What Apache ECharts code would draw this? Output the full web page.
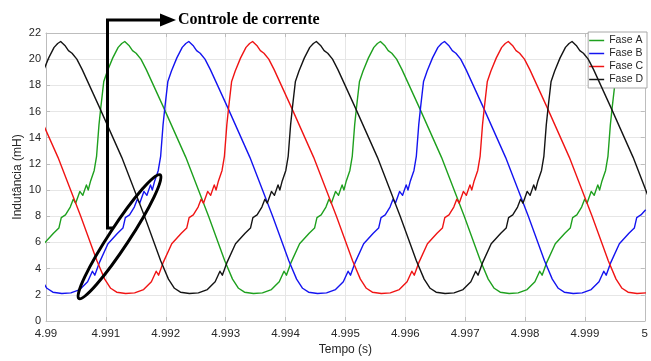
<!DOCTYPE html>
<html>
<head>
<meta charset="utf-8">
<script src="https://cdn.jsdelivr.net/npm/echarts@6/dist/echarts.min.js"></script>
<style>
  html, body { margin: 0; padding: 0; background: #ffffff; }
  #chart { width: 651px; height: 361px; }
</style>
</head>
<body>
<div id="chart"></div>
<script>
// Indutância de cada fase ao longo do tempo (s, mH)
const tempoA = [
  4.989825, 4.989965, 4.990125, 4.990215, 4.990255, 4.990325, 4.990405, 4.990455, 4.990495, 4.990565,
  4.990615, 4.990675, 4.990705, 4.990745, 4.990805, 4.990845, 4.990885, 4.990915, 4.990965, 4.991025,
  4.991115, 4.991205, 4.991265,
  4.991315, 4.991385, 4.991445, 4.991505, 4.991585, 4.991675, 4.991965, 4.992335, 4.992715, 4.992985,
  4.993115, 4.993215, 4.993315, 4.993465, 4.993615, 4.993765, 4.993895, 4.993975, 4.994015, 4.994095,
  4.994235, 4.994395, 4.994485, 4.994525, 4.994595, 4.994675, 4.994725, 4.994765, 4.994835, 4.994885,
  4.994945, 4.994975, 4.995015, 4.995075, 4.995115, 4.995155, 4.995185, 4.995235, 4.995295, 4.995385,
  4.995475, 4.995535,
  4.995585, 4.995655, 4.995715, 4.995775, 4.995855, 4.995945, 4.996235, 4.996605, 4.996985, 4.997255,
  4.997385, 4.997485, 4.997585, 4.997735, 4.997885, 4.998035, 4.998165, 4.998245, 4.998285, 4.998365,
  4.998505, 4.998665, 4.998755, 4.998795, 4.998865, 4.998945, 4.998995, 4.999035, 4.999105, 4.999155,
  4.999215, 4.999245, 4.999285, 4.999345, 4.999385, 4.999425, 4.999455, 4.999505, 4.999565, 4.999655,
  4.999745, 4.999805,
  4.999855, 4.999925, 4.999985, 5.000045
];
const faseA = [
  4.5, 5.9, 6.7, 7.1, 7.9, 8.1, 8.7, 9.3, 9.0, 9.9,
  9.6, 10.4, 10.0, 10.7, 11.5, 12.6, 15.0, 16.3, 18.3, 19.1,
  20.1, 20.9, 21.2,
  21.35, 21.05, 20.65, 20.45, 20.0, 19.2, 16.3, 12.5, 8.0, 4.6,
  3.2, 2.5, 2.2, 2.1, 2.15, 2.4, 3.0, 3.8, 3.5, 4.5,
  5.9, 6.7, 7.1, 7.9, 8.1, 8.7, 9.3, 9.0, 9.9, 9.6,
  10.4, 10.0, 10.7, 11.5, 12.6, 15.0, 16.3, 18.3, 19.1, 20.1,
  20.9, 21.2,
  21.35, 21.05, 20.65, 20.45, 20.0, 19.2, 16.3, 12.5, 8.0, 4.6,
  3.2, 2.5, 2.2, 2.1, 2.15, 2.4, 3.0, 3.8, 3.5, 4.5,
  5.9, 6.7, 7.1, 7.9, 8.1, 8.7, 9.3, 9.0, 9.9, 9.6,
  10.4, 10.0, 10.7, 11.5, 12.6, 15.0, 16.3, 18.3, 19.1, 20.1,
  20.9, 21.2,
  21.35, 21.05, 20.65, 20.45
];

const tempoB = [
  4.989915, 4.990015, 4.990115, 4.990265, 4.990415, 4.990565, 4.990695, 4.990775, 4.990815, 4.990895,
  4.991035, 4.991195, 4.991285, 4.991325, 4.991395, 4.991475, 4.991525, 4.991565, 4.991635, 4.991685,
  4.991745, 4.991775, 4.991815, 4.991875, 4.991915, 4.991955, 4.991985, 4.992035, 4.992095, 4.992185,
  4.992275, 4.992335,
  4.992385, 4.992455, 4.992515, 4.992575, 4.992655, 4.992745, 4.993035, 4.993405, 4.993785, 4.994055,
  4.994185, 4.994285, 4.994385, 4.994535, 4.994685, 4.994835, 4.994965, 4.995045, 4.995085, 4.995165,
  4.995305, 4.995465, 4.995555, 4.995595, 4.995665, 4.995745, 4.995795, 4.995835, 4.995905, 4.995955,
  4.996015, 4.996045, 4.996085, 4.996145, 4.996185, 4.996225, 4.996255, 4.996305, 4.996365, 4.996455,
  4.996545, 4.996605,
  4.996655, 4.996725, 4.996785, 4.996845, 4.996925, 4.997015, 4.997305, 4.997675, 4.998055, 4.998325,
  4.998455, 4.998555, 4.998655, 4.998805, 4.998955, 4.999105, 4.999235, 4.999315, 4.999355, 4.999435,
  4.999575, 4.999735, 4.999825, 4.999865, 4.999935, 5.000015
];
const faseB = [
  3.2, 2.5, 2.2, 2.1, 2.15, 2.4, 3.0, 3.8, 3.5, 4.5,
  5.9, 6.7, 7.1, 7.9, 8.1, 8.7, 9.3, 9.0, 9.9, 9.6,
  10.4, 10.0, 10.7, 11.5, 12.6, 15.0, 16.3, 18.3, 19.1, 20.1,
  20.9, 21.2,
  21.35, 21.05, 20.65, 20.45, 20.0, 19.2, 16.3, 12.5, 8.0, 4.6,
  3.2, 2.5, 2.2, 2.1, 2.15, 2.4, 3.0, 3.8, 3.5, 4.5,
  5.9, 6.7, 7.1, 7.9, 8.1, 8.7, 9.3, 9.0, 9.9, 9.6,
  10.4, 10.0, 10.7, 11.5, 12.6, 15.0, 16.3, 18.3, 19.1, 20.1,
  20.9, 21.2,
  21.35, 21.05, 20.65, 20.45, 20.0, 19.2, 16.3, 12.5, 8.0, 4.6,
  3.2, 2.5, 2.2, 2.1, 2.15, 2.4, 3.0, 3.8, 3.5, 4.5,
  5.9, 6.7, 7.1, 7.9, 8.1, 8.5
];

const tempoC = [
  4.98983, 4.99020, 4.99058, 4.99085, 4.99098, 4.99108, 4.99118, 4.99133, 4.99148, 4.99163,
  4.99176, 4.99184, 4.99188, 4.99196, 4.99210, 4.99226, 4.99235, 4.99239, 4.99246, 4.99254,
  4.99259, 4.99263, 4.99270, 4.99275, 4.99281, 4.99284, 4.99288, 4.99294, 4.99298, 4.99302,
  4.99305, 4.99310, 4.99316, 4.99325, 4.99334, 4.99340,
  4.99345, 4.99352, 4.99358, 4.99364, 4.99372, 4.99381, 4.99410, 4.99447, 4.99485, 4.99512,
  4.99525, 4.99535, 4.99545, 4.99560, 4.99575, 4.99590, 4.99603, 4.99611, 4.99615, 4.99623,
  4.99637, 4.99653, 4.99662, 4.99666, 4.99673, 4.99681, 4.99686, 4.99690, 4.99697, 4.99702,
  4.99708, 4.99711, 4.99715, 4.99721, 4.99725, 4.99729, 4.99732, 4.99737, 4.99743, 4.99752,
  4.99761, 4.99767,
  4.99772, 4.99779, 4.99785, 4.99791, 4.99799, 4.99808, 4.99837, 4.99874, 4.99912, 4.99939,
  4.99952, 4.99962, 4.99972, 4.99987, 5.00002
];
const faseC = [
  16.3, 12.5, 8.0, 4.6, 3.2, 2.5, 2.2, 2.1, 2.15, 2.4,
  3.0, 3.8, 3.5, 4.5, 5.9, 6.7, 7.1, 7.9, 8.1, 8.7,
  9.3, 9.0, 9.9, 9.6, 10.4, 10.0, 10.7, 11.5, 12.6, 15.0,
  16.3, 18.3, 19.1, 20.1, 20.9, 21.2,
  21.35, 21.05, 20.65, 20.45, 20.0, 19.2, 16.3, 12.5, 8.0, 4.6,
  3.2, 2.5, 2.2, 2.1, 2.15, 2.4, 3.0, 3.8, 3.5, 4.5,
  5.9, 6.7, 7.1, 7.9, 8.1, 8.7, 9.3, 9.0, 9.9, 9.6,
  10.4, 10.0, 10.7, 11.5, 12.6, 15.0, 16.3, 18.3, 19.1, 20.1,
  20.9, 21.2,
  21.35, 21.05, 20.65, 20.45, 20.0, 19.2, 16.3, 12.5, 8.0, 4.6,
  3.2, 2.5, 2.2, 2.1, 2.15
];

const tempoD = [
  4.989815, 4.989845, 4.989895, 4.989955, 4.990045, 4.990135, 4.990195,
  4.990245, 4.990315, 4.990375, 4.990435, 4.990515, 4.990605, 4.990895, 4.991265, 4.991645, 4.991915,
  4.992045, 4.992145, 4.992245, 4.992395, 4.992545, 4.992695, 4.992825, 4.992905, 4.992945, 4.993025,
  4.993165, 4.993325, 4.993415, 4.993455, 4.993525, 4.993605, 4.993655, 4.993695, 4.993765, 4.993815,
  4.993875, 4.993905, 4.993945, 4.994005, 4.994045, 4.994085, 4.994115, 4.994165, 4.994225, 4.994315,
  4.994405, 4.994465,
  4.994515, 4.994585, 4.994645, 4.994705, 4.994785, 4.994875, 4.995165, 4.995535, 4.995915, 4.996185,
  4.996315, 4.996415, 4.996515, 4.996665, 4.996815, 4.996965, 4.997095, 4.997175, 4.997215, 4.997295,
  4.997435, 4.997595, 4.997685, 4.997725, 4.997795, 4.997875, 4.997925, 4.997965, 4.998035, 4.998085,
  4.998145, 4.998175, 4.998215, 4.998275, 4.998315, 4.998355, 4.998385, 4.998435, 4.998495, 4.998585,
  4.998675, 4.998735,
  4.998785, 4.998855, 4.998915, 4.998975, 4.999055, 4.999145, 4.999435, 4.999805, 5.000185
];
const faseD = [
  15.0, 16.3, 18.3, 19.1, 20.1, 20.9, 21.2,
  21.35, 21.05, 20.65, 20.45, 20.0, 19.2, 16.3, 12.5, 8.0, 4.6,
  3.2, 2.5, 2.2, 2.1, 2.15, 2.4, 3.0, 3.8, 3.5, 4.5,
  5.9, 6.7, 7.1, 7.9, 8.1, 8.7, 9.3, 9.0, 9.9, 9.6,
  10.4, 10.0, 10.7, 11.5, 12.6, 15.0, 16.3, 18.3, 19.1, 20.1,
  20.9, 21.2,
  21.35, 21.05, 20.65, 20.45, 20.0, 19.2, 16.3, 12.5, 8.0, 4.6,
  3.2, 2.5, 2.2, 2.1, 2.15, 2.4, 3.0, 3.8, 3.5, 4.5,
  5.9, 6.7, 7.1, 7.9, 8.1, 8.7, 9.3, 9.0, 9.9, 9.6,
  10.4, 10.0, 10.7, 11.5, 12.6, 15.0, 16.3, 18.3, 19.1, 20.1,
  20.9, 21.2,
  21.35, 21.05, 20.65, 20.45, 20.0, 19.2, 16.3, 12.5, 8.0
];

const nomesFases = ['Fase A', 'Fase B', 'Fase C', 'Fase D'];
const coresFases = ['#1ea01e', '#1414f0', '#f01414', '#141414'];
const tempos = [tempoA, tempoB, tempoC, tempoD];
const fases = [faseA, faseB, faseC, faseD];

const eixoCor = '#bdbdbd';
const textoCor = '#262626';
const fonte = 'Liberation Sans, Arial, sans-serif';

const chart = echarts.init(document.getElementById('chart'), null, { renderer: 'canvas' });

const xBase = {
  type: 'value', min: 4.99, max: 5, interval: 0.001,
  axisLine: { show: true, onZero: false, lineStyle: { color: eixoCor, width: 1 } },
  axisTick: { show: true, inside: true, length: 4, lineStyle: { color: eixoCor } },
  splitLine: { show: false }
};
const yBase = {
  type: 'value', min: 0, max: 22, interval: 2,
  axisLine: { show: true, onZero: false, lineStyle: { color: eixoCor, width: 1 } },
  axisTick: { show: true, inside: true, length: 4, lineStyle: { color: eixoCor } },
  splitLine: { show: false }
};

const option = {
  backgroundColor: '#ffffff',
  animation: false,
  grid: { left: 46, right: 5, top: 33, bottom: 38, containLabel: false },
  legend: {
    orient: 'vertical', right: 4, top: 32,
    data: nomesFases,
    // ícone em forma de traço, como a própria linha
    icon: 'path://M0,0 L24,0 L24,2.4 L0,2.4 Z',
    symbolKeepAspect: true,
    itemWidth: 15, itemHeight: 13, itemGap: 0,
    padding: [2, 4, 2, 1],
    backgroundColor: '#ffffff',
    borderColor: '#a8a8a8', borderWidth: 1, borderRadius: 0,
    textStyle: { fontSize: 10.5, color: textoCor, fontFamily: fonte, lineHeight: 13 }
  },
  xAxis: [
    Object.assign({}, xBase, {
      position: 'bottom',
      name: 'Tempo (s)', nameLocation: 'middle', nameGap: 23, nameMoveOverlap: false,
      nameTextStyle: { fontSize: 12, color: textoCor, fontFamily: fonte },
      axisLabel: {
        show: true, margin: 7, fontSize: 11.5, color: textoCor, fontFamily: fonte,
        showMinLabel: true, showMaxLabel: true,
        formatter: v => String(+v.toFixed(3))
      },
      splitLine: { show: true, lineStyle: { color: '#e6e6e6', width: 1 } }
    }),
    Object.assign({}, xBase, { position: 'top', axisLabel: { show: false } })
  ],
  yAxis: [
    Object.assign({}, yBase, {
      position: 'left',
      name: 'Indutância (mH)', nameLocation: 'middle', nameGap: 22, nameMoveOverlap: false,
      nameTextStyle: { fontSize: 12, color: textoCor, fontFamily: fonte },
      axisLabel: { show: true, margin: 5, fontSize: 11, color: textoCor, fontFamily: fonte },
      splitLine: { show: true, lineStyle: { color: '#e6e6e6', width: 1 } }
    }),
    Object.assign({}, yBase, { position: 'right', axisLabel: { show: false } })
  ],
  series: nomesFases.map((nome, k) => ({
    name: nome,
    type: 'line',
    xAxisIndex: 0, yAxisIndex: 0,
    data: tempos[k].map((t, i) => [t, fases[k][i]]),
    symbol: 'none', showSymbol: false,
    smooth: false,
    clip: true,
    lineStyle: { color: coresFases[k], width: 1.4, join: 'round' },
    itemStyle: { color: coresFases[k] },
    z: 2 + k
  })),
  graphic: [
    // seta indicando o trecho de controle de corrente
    {
      type: 'polyline', z: 100,
      shape: { points: [[113, 228], [107.5, 228], [107.5, 20], [162, 20]] },
      style: { stroke: '#000000', lineWidth: 3, fill: null, lineJoin: 'miter' }
    },
    {
      type: 'polygon', z: 100,
      shape: { points: [[160, 13.5], [176, 20], [160, 26.5]] },
      style: { fill: '#000000' }
    },
    {
      type: 'text', z: 100, x: 178, y: 20,
      style: {
        text: 'Controle de corrente', fill: '#000000',
        font: 'bold 16px "Liberation Serif", "Times New Roman", serif',
        verticalAlign: 'middle', align: 'left'
      }
    },
    {
      type: 'ellipse', z: 100, x: 119.5, y: 236.7, rotation: 0.99,
      shape: { cx: 0, cy: 0, rx: 74, ry: 10 },
      style: { stroke: '#000000', lineWidth: 3, fill: null }
    }
  ]
};

chart.setOption(option);
</script>
</body>
</html>
